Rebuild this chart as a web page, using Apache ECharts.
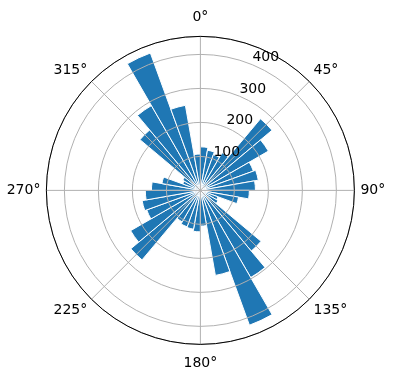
<!DOCTYPE html>
<html>
<head>
<meta charset="utf-8">
<script src="https://cdn.jsdelivr.net/npm/echarts@6/dist/echarts.min.js"></script>
<style>
html, body { margin: 0; padding: 0; background: #fff; }
#main { width: 396px; height: 380px; }
</style>
</head>
<body>
<div id="main"></div>
<script>
// 10 degree bins, clockwise from north
let binStarts = [0, 10, 20, 30, 40, 50, 60, 70, 80, 90, 100, 110, 120, 130, 140, 150, 160, 170,
  180, 190, 200, 210, 220, 230, 240, 250, 260, 270, 280, 290, 300, 310, 320, 330, 340, 350];
let counts = [128, 120, 112, 128, 275, 231, 166, 173, 162, 144, 114, 55, 60, 233, 296, 422, 254, 105,
  122, 116, 114, 107, 267, 237, 168, 174, 162, 144, 115, 55, 60, 232, 288, 430, 254, 107];
let radiusTicks = [100, 200, 300, 400];
let rMax = 453;

let center = ['50.6%', '50.1%'];
let radius = 154;
let font = 'DejaVu Sans';

let chart = echarts.init(document.getElementById('main'));
chart.setOption({
  animation: false,
  polar: [
    { center: center, radius: radius },
    { center: center, radius: radius },
    { center: center, radius: radius }
  ],
  angleAxis: [
    { polarIndex: 0, type: 'category', data: binStarts.map(String), startAngle: 90, clockwise: true, show: false },
    {
      polarIndex: 1, type: 'value', min: 0, max: 360, interval: 45, startAngle: 90, clockwise: true, z: 6,
      axisLine: { lineStyle: { color: '#000', width: 1 } },
      axisTick: { show: false },
      axisLabel: {
        margin: 6, color: '#000', fontSize: 14, fontFamily: font,
        formatter: function (v) {
          if (v === 360) return '';
          // top and bottom labels sit a bit further out
          return (v === 0 || v === 180) ? '{v|' + v + '°}' : v + '°';
        },
        rich: { v: { padding: [6, 0, 6, 0], fontSize: 14, fontFamily: font, color: '#000' } }
      },
      splitLine: { show: true, lineStyle: { color: '#b0b0b0', width: 1 } }
    },
    { polarIndex: 2, type: 'value', min: 0, max: 360, startAngle: 67.5, clockwise: true, show: false }
  ],
  radiusAxis: [
    { polarIndex: 0, type: 'value', min: 0, max: rMax, show: false },
    {
      polarIndex: 1, type: 'value', min: 0, max: rMax, interval: 100, z: 5,
      axisLine: { show: false }, axisTick: { show: false }, axisLabel: { show: false },
      splitLine: { show: true, lineStyle: { color: '#b0b0b0', width: 1 } }
    },
    {
      polarIndex: 2, type: 'value', min: 0, max: rMax, interval: 100, z: 7,
      axisLine: { show: false }, axisTick: { show: false }, splitLine: { show: false },
      axisLabel: {
        color: '#000', fontSize: 14, fontFamily: font, margin: 0,
        align: 'left', verticalAlign: 'bottom',
        formatter: function (v) { return radiusTicks.indexOf(v) >= 0 ? String(v) : ''; }
      }
    }
  ],
  series: [{
    type: 'bar',
    coordinateSystem: 'polar',
    polarIndex: 0,
    data: counts,
    barCategoryGap: '0%',
    itemStyle: { color: '#1f77b4', borderColor: '#fff', borderWidth: 1 }
  }]
});
</script>
</body>
</html>
